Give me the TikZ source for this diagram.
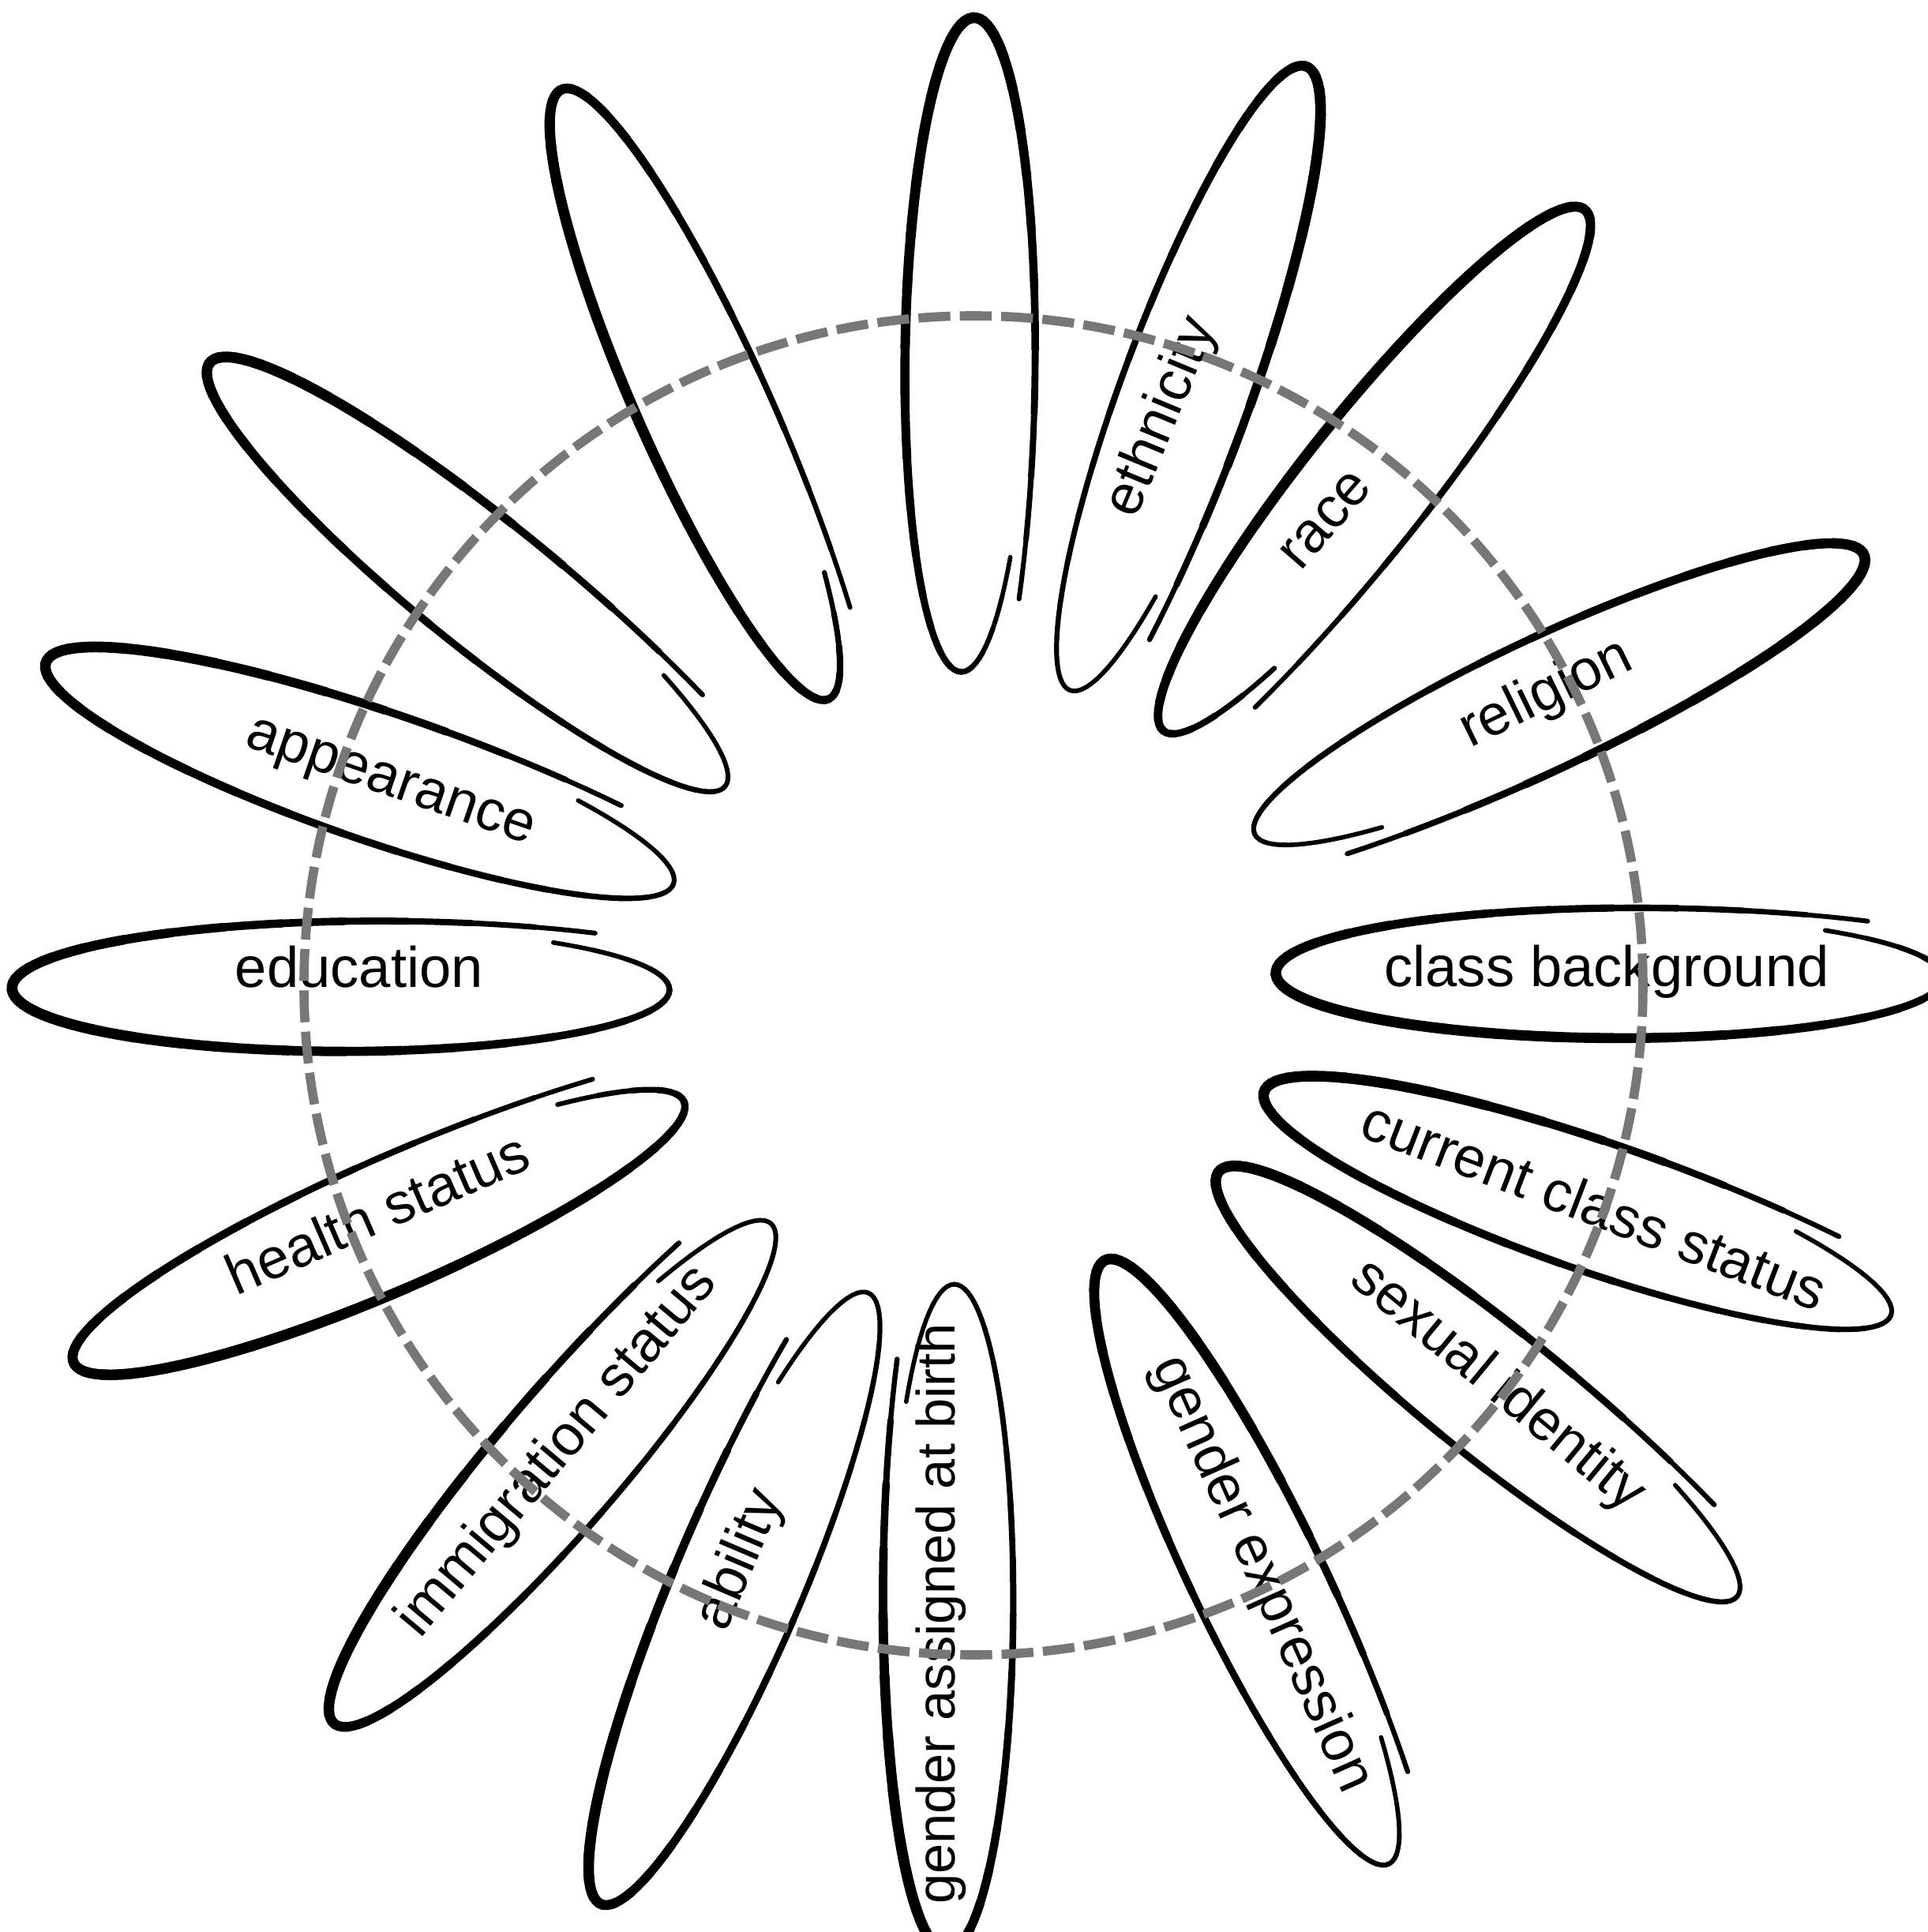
\documentclass[tikz,border=0pt]{standalone}
\usepackage{fontspec}
\setmainfont{Liberation Sans}
\usetikzlibrary{calc}
\definecolor{ringgray}{HTML}{777777}

\tikzset{
  petal label/.style={font=\fontsize{20.6}{24}\selectfont,inner sep=0pt,text height=0.75em,text depth=0.21em},
  ring/.style={draw=ringgray,line width=3.3pt,line cap=butt,dash pattern=on 11.5pt off 3.4pt}
}

\begin{document}
\begin{tikzpicture}[line cap=round]
\useasboundingbox (-12.33,-11.99) rectangle (12.09,12.48);
\coordinate (centre) at (0,0);

% petals: centre angle / distance / frame rotation / half length / where the stroke is heaviest
\foreach \ang/\dist/\rot/\len/\pk in {
  90.6/8.07/89/4.10/1.36, 70.6/8.11/69.4/4.18/2.41, 52.2/8.22/51.2/4.20/0.87, 26.5/8.24/24.8/4.20/1.94,
  0.8/8.10/179.7/4.18/1.16, -19.9/8.18/160.5/4.17/1.94, -38.4/8.19/140.8/4.20/1.94, -64.7/8.13/115.3/4.18/1.94,
  -92/7.97/-90.5/4.18/2.41, -111.2/8.29/-113.5/4.18/2.41, -130.7/8.12/-131/4.16/2.41, -157.4/8.11/-156.7/4.16/1,
  180.4/7.97/180/4.12/1.36, 161/8.18/160.7/4.17/1.94, 141/8.21/140.7/4.18/1.94, 115.3/8.23/113.8/4.17/0.87}{
  \begin{scope}[shift={($(centre)+(\ang:\dist)$)},rotate=\rot]
    \foreach \k in {0,...,35}{
      \pgfmathsetmacro\ta{-130-10*\k}
      \pgfmathsetmacro\tb{\ta-10}
      \pgfmathsetmacro\lw{1.6+2.3*sin(180*((\k+0.5)/36)^\pk)}
      \draw[line width=\lw pt] plot[domain=\tb:\ta,samples=4]
        ({\len*(1+0.2*((-130-\x)/360)^5)*cos(\x)},{0.78*(1+0.2*((-130-\x)/360)^5)*sin(\x)});
    }
  \end{scope}
}

% labels
\foreach \px/\py/\rot/\txt [count=\i] in {
  2.48/7.16/67.5/ethnicity, 4.54/5.83/49/race, 7.30/3.60/26/religion,
  8.02/0.08/0/class background, 7.81/-2.93/-21/current class status,
  6.58/-5.15/-39.5/sexual identity, 3.56/-7.50/-66/gender expression,
  -2.86/-7.32/67/ability, -5.19/-5.97/50/immigration status,
  -7.49/-3.03/23.4/health status, -7.78/0.07/0/education, -7.41/2.50/-19/appearance}
  \node[petal label,rotate=\rot] (label\i) at (\px,\py) {\txt};
\node[petal label,font=\fontsize{19.5}{23}\selectfont,rotate=90] (label13) at (-0.33,-7.96) {gender assigned at birth};

\draw[ring] (centre) circle[radius=8.48];
\end{tikzpicture}
\end{document}
